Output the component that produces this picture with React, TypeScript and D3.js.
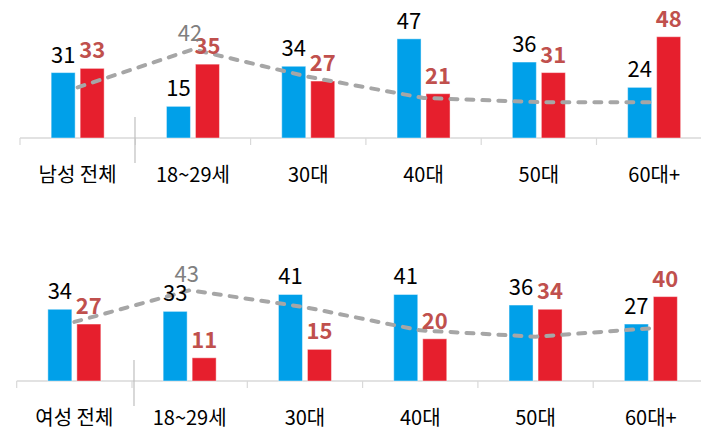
import React from 'react';
import * as d3 from 'd3';

const categoriesMale = ['남성 전체', '18~29세', '30대', '40대', '50대', '60대+'];
const categoriesFemale = ['여성 전체', '18~29세', '30대', '40대', '50대', '60대+'];

const maleBlue = [31, 15, 34, 47, 36, 24];
const maleRed = [33, 35, 27, 21, 31, 48];
const maleLine = [24, 42, 29, 19, 17, 17];

const femaleBlue = [34, 33, 41, 41, 36, 27];
const femaleRed = [27, 11, 15, 20, 34, 40];
const femaleLine = [28, 43, 35, 24, 21, 25];

const lineLabelIndex = 1;

const BLUE = '#00a0e9';
const RED = '#e61f2d';
const FONT = '"Noto Sans CJK KR", "Noto Sans", sans-serif';

interface PanelProps {
  categories: string[];
  blue: number[];
  red: number[];
  line: number[];
  baseY: number;
  left: number;
  sepX: number;
}

const Panel: React.FC<PanelProps> = ({ categories, blue, red, line, baseY, left, sepX }) => {
  const groupW = 115.3;
  const x = d3.scaleBand<string>()
    .domain(categories.map((_, i) => String(i)))
    .range([left, left + groupW * categories.length])
    .paddingInner(0)
    .paddingOuter(0);

  const y = d3.scaleLinear().domain([0, 50]).range([baseY, baseY - 105.5]);

  const center = (i: number) => (x(String(i)) || 0) + x.bandwidth() / 2;

  const sub = (i: number) => d3.scaleBand<string>()
    .domain(['blue', 'red'])
    .range([center(i) - 26.5, center(i) + 26.5])
    .paddingInner(0.1724);

  const linePath = d3.line<number>()
    .x((_, i) => center(i))
    .y(d => y(d))(line) || '';

  const ticks = d3.range(categories.length + 1).map(i => left + groupW * i);

  return (
    <g>
      <line x1={left} x2={720} y1={baseY} y2={baseY} stroke="#d9d9d9" strokeWidth={1.5} />
      {ticks.map((t, i) => (
        <line key={i} x1={t} x2={t} y1={baseY} y2={baseY + 7} stroke="#d9d9d9" strokeWidth={1.2} />
      ))}
      <line x1={sepX} x2={sepX} y1={baseY - 21} y2={baseY + 25} stroke="#bfbfbf" strokeWidth={1.2} />

      {categories.map((c, i) => {
        const s = sub(i);
        return (
          <g key={c + i}>
            <rect x={s('blue')} y={y(blue[i])} width={s.bandwidth()} height={baseY - y(blue[i])}
              fill={BLUE} stroke="rgba(255,255,255,0.45)" strokeWidth={1} />
            <rect x={s('red')} y={y(red[i])} width={s.bandwidth()} height={baseY - y(red[i])}
              fill={RED} stroke="rgba(255,255,255,0.45)" strokeWidth={1} />
          </g>
        );
      })}

      <path d={linePath} fill="none" stroke="#a6a6a6" strokeWidth={4}
        strokeDasharray="7 9" strokeLinecap="round" strokeLinejoin="round" />

      {categories.map((c, i) => {
        const s = sub(i);
        return (
          <g key={'l' + c + i} fontFamily={FONT} textAnchor="middle">
            <text x={(s('blue') || 0) + s.bandwidth() / 2} y={y(blue[i]) - 10}
              fontSize={22} fill="#000">{blue[i]}</text>
            <text x={(s('red') || 0) + s.bandwidth() / 2} y={y(red[i]) - 10}
              fontSize={22} fontWeight="bold" fill="#c0504d">{red[i]}</text>
            <text x={center(i)} y={baseY + 44} fontSize={20} fill="#000">{c}</text>
          </g>
        );
      })}

      <text x={center(lineLabelIndex) - 3} y={y(line[lineLabelIndex]) - 8}
        fontFamily={FONT} fontSize={22} fill="#808080" textAnchor="middle">
        {line[lineLabelIndex]}
      </text>
    </g>
  );
};

const App: React.FC = () => {
  return (
    <svg width={701} height={431}
      style={{ position: 'absolute', left: 0, top: 0, background: '#fff', display: 'block' }}>
      <Panel categories={categoriesMale} blue={maleBlue} red={maleRed} line={maleLine}
        baseY={138} left={20} sepX={135} />
      <Panel categories={categoriesFemale} blue={femaleBlue} red={femaleRed} line={femaleLine}
        baseY={381} left={16.7} sepX={134} />
    </svg>
  );
};

export default App;
